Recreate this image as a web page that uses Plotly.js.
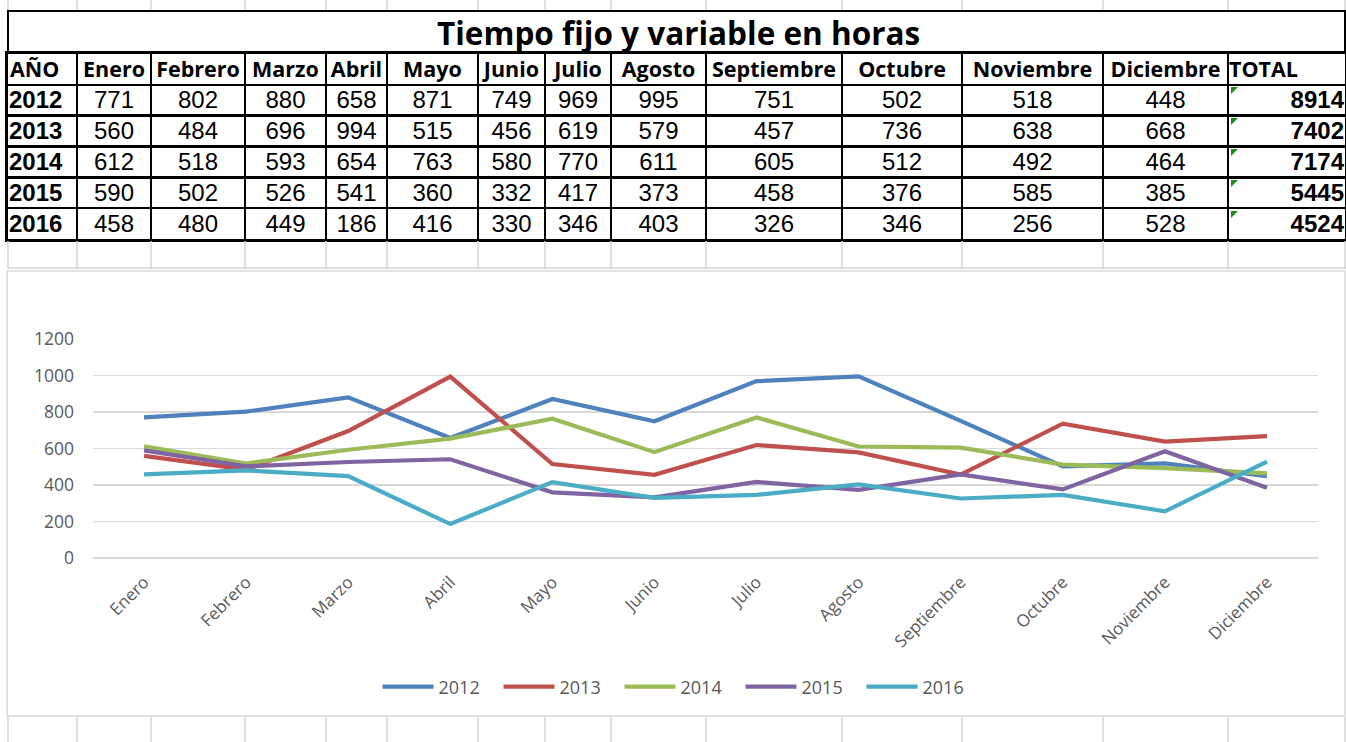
<!DOCTYPE html>
<html><head><meta charset="utf-8">
<script src="https://cdn.plot.ly/plotly-3.0.1.min.js"></script>
<style>html,body{margin:0;padding:0;background:#fff;}#chart{width:1346px;height:742px;}</style>
</head><body><div id="chart"></div>
<script>
const tableTitle = 'Tiempo fijo y variable en horas';
const months = ['Enero','Febrero','Marzo','Abril','Mayo','Junio','Julio','Agosto','Septiembre','Octubre','Noviembre','Diciembre'];
const yearLabel = 'AÑO';
const totalLabel = 'TOTAL';
const years = ['2012','2013','2014','2015','2016'];
const v2012 = [771,802,880,658,871,749,969,995,751,502,518,448];
const v2013 = [560,484,696,994,515,456,619,579,457,736,638,668];
const v2014 = [612,518,593,654,763,580,770,611,605,512,492,464];
const v2015 = [590,502,526,541,360,332,417,373,458,376,585,385];
const v2016 = [458,480,449,186,416,330,346,403,326,346,256,528];
const totals = [8914,7402,7174,5445,4524];
const yTicks = [0,200,400,600,800,1000,1200];

const series = [v2012, v2013, v2014, v2015, v2016];
const colors = ['#4F81BD','#C0504D','#9BBB59','#8064A2','#4BACC6'];

const W = 1346, H = 742;
const X = p => p / W;
const Y = p => 1 - p / H;

// spreadsheet column boundaries (px), used as the table axis scale
const colEdges = [8,77,151,245,326,387,478,545,611,706,842,962,1103,1228,1345];
const monthCenters = months.map((m, i) => (colEdges[i+1] + colEdges[i+2]) / 2);
const textShift = 0.07; // small downward nudge of text inside each row
const rowIdx = years.map((y, i) => i + 1 + textShift);

// ---- table drawn on its own axes (x2/y2) ----
const tableTraces = [];
const headFont = {family:'Open Sans', size:21.5, color:'#000'};
const cellFont = {family:'Liberation Sans', size:24, color:'#000'};
tableTraces.push({
  type:'scatter', mode:'text', xaxis:'x2', yaxis:'y2', showlegend:false, hoverinfo:'skip',
  x: [colEdges[0] + 2], y: [textShift], text: ['<b>' + yearLabel + '</b>'], textposition:'middle right', textfont: headFont
});
tableTraces.push({
  type:'scatter', mode:'text', xaxis:'x2', yaxis:'y2', showlegend:false, hoverinfo:'skip',
  x: monthCenters, y: months.map(() => textShift), text: months.map(m => '<b>' + m + '</b>'), textposition:'middle center', textfont: headFont
});
tableTraces.push({
  type:'scatter', mode:'text', xaxis:'x2', yaxis:'y2', showlegend:false, hoverinfo:'skip',
  x: [colEdges[13] + 1], y: [textShift], text: ['<b>' + totalLabel + '</b>'], textposition:'middle right', textfont: headFont
});
tableTraces.push({
  type:'scatter', mode:'text', xaxis:'x2', yaxis:'y2', showlegend:false, hoverinfo:'skip',
  x: years.map(() => colEdges[0] + 1), y: rowIdx, text: years.map(y => '<b>' + y + '</b>'), textposition:'middle right', textfont: cellFont
});
series.forEach((s, r) => {
  tableTraces.push({
    type:'scatter', mode:'text', xaxis:'x2', yaxis:'y2', showlegend:false, hoverinfo:'skip',
    x: monthCenters, y: s.map(() => rowIdx[r]), text: s.map(String), textposition:'middle center', textfont: cellFont
  });
});
tableTraces.push({
  type:'scatter', mode:'text', xaxis:'x2', yaxis:'y2', showlegend:false, hoverinfo:'skip',
  x: totals.map(() => colEdges[14] - 1), y: rowIdx, text: totals.map(t => '<b>' + t + '</b>'), textposition:'middle left', textfont: cellFont
});

const lineTraces = series.map((s, i) => ({
  type: 'scatter', mode: 'lines',
  x: months, y: s, name: years[i],
  line: {color: colors[i], width: 4.2},
  hoverinfo: 'skip'
}));

const shapes = [];
const grid = '#d4d4d4';
colEdges.forEach(e => shapes.push({type:'line', xref:'paper', yref:'paper', x0:X(e), x1:X(e), y0:Y(0), y1:Y(10), line:{color:grid, width:1.5}}));
colEdges.forEach(e => shapes.push({type:'line', xref:'paper', yref:'paper', x0:X(e), x1:X(e), y0:Y(241), y1:Y(269), line:{color:grid, width:1.5}}));
shapes.push({type:'line', xref:'paper', yref:'paper', x0:X(8), x1:X(1346), y0:Y(268), y1:Y(268), line:{color:grid, width:1.5}});
colEdges.forEach(e => shapes.push({type:'line', xref:'paper', yref:'paper', x0:X(e), x1:X(e), y0:Y(717), y1:Y(742), line:{color:grid, width:1.5}}));
shapes.push({type:'rect', xref:'paper', yref:'paper', x0:X(7), x1:X(1345), y0:Y(271), y1:Y(716), line:{color:'#d9d9d9', width:1.5}, fillcolor:'rgba(0,0,0,0)', layer:'below'});
// merged title cell (left, top, right borders; bottom is the table's top line)
shapes.push({type:'path', xref:'paper', yref:'paper',
  path: `M${X(8)},${Y(54)} L${X(8)},${Y(11)} L${X(1345)},${Y(11)} L${X(1345)},${Y(54)}`,
  line:{color:'#000', width:2}});
// green error indicators in TOTAL cells
years.forEach((y, i) => {
  const top = 87 + 31 * i, left = 1231;
  shapes.push({type:'path', xref:'paper', yref:'paper',
    path: `M${X(left)},${Y(top)} L${X(left+7)},${Y(top)} L${X(left)},${Y(top+7)} Z`,
    fillcolor:'#1e8c1e', line:{width:0}});
});

const rowEdges = [-0.5,0.5,1.5,2.5,3.5,4.5,5.5];

const layout = {
  width: W, height: H,
  margin: {l:0, r:0, t:0, b:0},
  paper_bgcolor: '#fff', plot_bgcolor: 'rgba(0,0,0,0)',
  showlegend: true,
  annotations: [{
    xref:'paper', yref:'paper', x: X(678), y: Y(33), xanchor:'center', yanchor:'middle',
    text: '<b>' + tableTitle + '</b>', showarrow:false,
    font: {family:'Open Sans', size: 31.5, color:'#000'}
  }],
  shapes: shapes,
  xaxis: {
    domain: [X(93), X(1318)], anchor: 'y',
    type: 'category', range: [-0.5, 11.5],
    showgrid: false, zeroline: false, showline: false, ticks: '',
    tickangle: -45, ticklabelstandoff: 10,
    tickfont: {family:'Open Sans', size: 17, color:'#595959'},
    automargin: false, fixedrange: true
  },
  yaxis: {
    domain: [Y(558), Y(339)], anchor: 'x',
    range: [0, 1200], tickvals: yTicks,
    showgrid: true, gridcolor: '#d9d9d9', gridwidth: 1.5,
    zeroline: true, zerolinecolor: '#d9d9d9', zerolinewidth: 1.5,
    showline: false, ticks: '', ticklabelstandoff: 18,
    tickfont: {family:'Open Sans', size: 17.5, color:'#595959'},
    automargin: false, fixedrange: true
  },
  xaxis2: {
    domain: [X(8), X(1345)], anchor: 'y2',
    range: [colEdges[0], colEdges[colEdges.length-1]],
    tickvals: colEdges, showticklabels: false, ticks: '',
    showgrid: true, gridcolor: '#000', gridwidth: 2.6,
    zeroline: false, showline: true, mirror: true, linecolor: '#000', linewidth: 2.6,
    automargin: false, fixedrange: true
  },
  yaxis2: {
    domain: [Y(239), Y(54)], anchor: 'x2',
    range: [5.5, -0.5],
    tickvals: rowEdges, showticklabels: false, ticks: '',
    showgrid: true, gridcolor: '#000', gridwidth: 2.6,
    zeroline: false, showline: true, mirror: true, linecolor: '#000', linewidth: 2.6,
    automargin: false, fixedrange: true
  },
  legend: {
    orientation: 'h', x: X(680), xanchor: 'center', y: Y(687), yanchor: 'middle',
    font: {family:'Open Sans', size: 18, color:'#595959'},
    itemwidth: 51, entrywidth: 55, bgcolor: 'rgba(0,0,0,0)'
  }
};

Plotly.newPlot('chart', tableTraces.concat(lineTraces), layout, {displayModeBar:false, staticPlot:true});
</script>
</body></html>
